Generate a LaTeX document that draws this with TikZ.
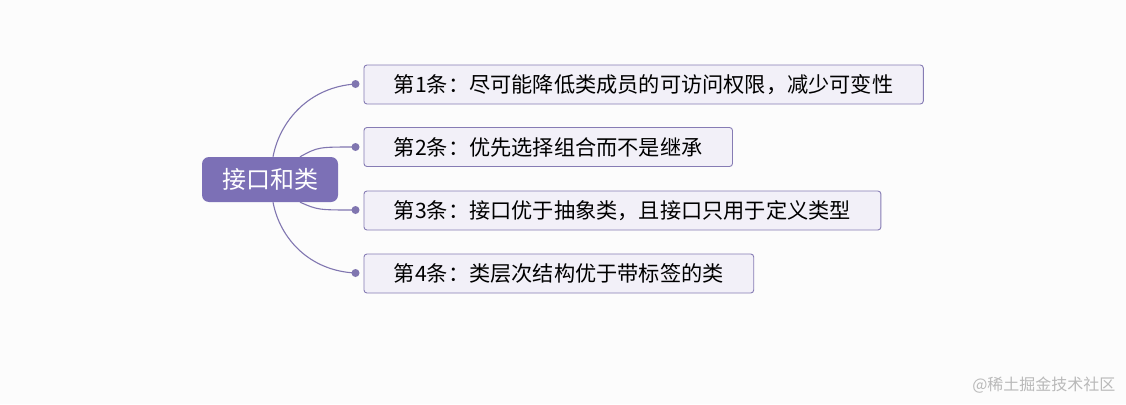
\documentclass[tikz,border=0pt]{standalone}
\usepackage{fontspec}
\setmainfont{Noto Sans CJK SC}
\usetikzlibrary{positioning}
\definecolor{rootpurple}{RGB}{124,112,182}
\definecolor{boxfill}{RGB}{242,240,248}
\definecolor{boxline}{RGB}{134,124,180}
\definecolor{linkcol}{RGB}{128,118,176}
\definecolor{markgray}{RGB}{185,185,185}
\tikzset{
  rootnode/.style={fill=rootpurple,rounded corners=7pt,text=white,
    font=\fontsize{24}{28}\selectfont,minimum width=136pt,minimum height=45pt,inner sep=0pt},
  rulebox/.style={draw=boxline,fill=boxfill,rounded corners=3pt,line width=0.9pt,
    font=\fontsize{21.2}{25}\selectfont,anchor=west,minimum height=39pt,inner xsep=30pt,inner ysep=0pt},
  dotnode/.style={circle,fill=linkcol,minimum size=8pt,inner sep=0pt},
  link/.style={draw=linkcol,line width=1.1pt}
}
\begin{document}
\begin{tikzpicture}[x=1pt,y=-1pt]

%BACKGROUND
\fill[white!98!gray] (0,0) rectangle (1126,404);
\useasboundingbox (0,0) rectangle (1126,404);

%ROOT
\node[rootnode] (root) at (270,179.5) {接口和类};

%RULES
\node[rulebox] (r1) at (363.5,84.5) {第1条：尽可能降低类成员的可访问权限，减少可变性};
\node[rulebox] (r2) at (363.5,147) {第2条：优先选择组合而不是继承};
\node[rulebox] (r3) at (363.5,210.5) {第3条：接口优于抽象类，且接口只用于定义类型};
\node[rulebox] (r4) at (363.5,273.5) {第4条：类层次结构优于带标签的类};

%DOTS
\node[dotnode] (d1) at (355.5,84) {};
\node[dotnode] (d2) at (355.5,147) {};
\node[dotnode] (d3) at (355.5,210) {};
\node[dotnode] (d4) at (355.5,273) {};

%LINKS
\draw[link] ([xshift=3pt]root.north) .. controls (280,120) and (310,87) .. (d1.center);
\draw[link] ([xshift=30pt]root.north) .. controls (318,147) .. (d2.center);
\draw[link] ([xshift=30pt]root.south) .. controls (318,210) .. (d3.center);
\draw[link] ([xshift=3pt]root.south) .. controls (280,239) and (310,271) .. (d4.center);

%WATERMARK
\node[text=markgray,font=\fontsize{16}{18}\selectfont,anchor=east] (mark) at (1119,385) {@稀土掘金技术社区};

\end{tikzpicture}
\end{document}
